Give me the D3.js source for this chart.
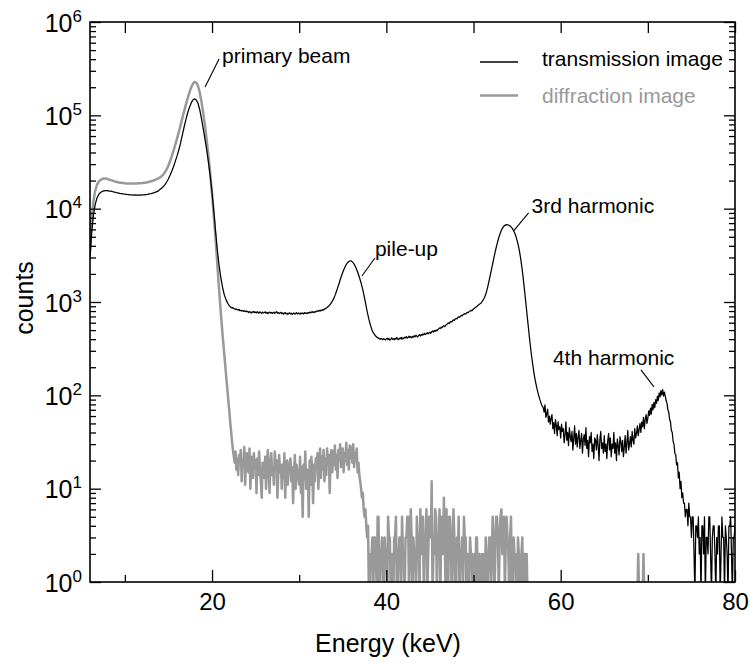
<!DOCTYPE html>
<html>
<head>
<meta charset="utf-8">
<script src="https://cdn.jsdelivr.net/npm/d3@7"></script>
<style>
  body { margin: 0; background: #fff; }
  text { font-family: "Liberation Sans", Arial, Helvetica, sans-serif; }
</style>
</head>
<body>
<svg id="chart" width="750" height="663"></svg>
<script>
// Spectrum channels: coarse binning below 22 keV, fine binning above
const lowStart = 6.0, lowStep = 0.2;    // 6.0 – 21.8 keV
const highStart = 22.0, highStep = 0.1; // 22.0 – 80.0 keV

// Transmission image detector, counts per channel
const transmissionLow = [
  2900, 5600, 8600, 11100, 13000, 14200, 14900, 15300, 15500, 15600,
  15600, 15450, 15380, 15200, 15080, 14880, 14760, 14580, 14520, 14380,
  14320, 14240, 14180, 14080, 14060, 13980, 14020, 13940, 14010, 13990,
  14060, 14090, 14170, 14240, 14370, 14490, 14660, 14840, 15120, 15400,
  16000, 16500, 17200, 18100, 19300, 20900, 23000, 25500, 28500, 32500,
  37000, 43000, 51000, 62000, 75000, 90000, 106000, 121000, 135000, 146000,
  150000, 146000, 134000, 114000, 91000, 71000, 55000, 42000, 31000, 22000,
  15000, 9500, 5800, 3700, 2500, 1850, 1450, 1200, 1060, 970
];
const transmissionHigh = [
  910, 890, 875, 860, 870, 850, 845, 830, 840, 825,
  820, 835, 805, 815, 800, 810, 795, 805, 790, 800,
  785, 795, 770, 790, 780, 760, 785, 775, 795, 770,
  780, 765, 790, 770, 760, 785, 770, 755, 780, 765,
  770, 785, 760, 775, 750, 770, 780, 760, 775, 755,
  765, 780, 755, 770, 790, 760, 770, 750, 765, 775,
  750, 765, 740, 760, 770, 745, 760, 735, 755, 765,
  745, 760, 735, 750, 765, 740, 755, 770, 745, 760,
  755, 740, 765, 750, 760, 745, 770, 755, 765, 750,
  770, 760, 780, 765, 775, 790, 770, 785, 775, 795,
  790, 805, 795, 815, 800, 820, 810, 830, 820, 840,
  850, 860, 875, 890, 905, 925, 955, 985, 1020, 1060,
  1110, 1170, 1240, 1320, 1410, 1500, 1610, 1720, 1840, 1960,
  2080, 2200, 2310, 2420, 2520, 2600, 2670, 2720, 2750, 2760,
  2740, 2690, 2620, 2540, 2450, 2340, 2220, 2100, 1970, 1850,
  1720, 1600, 1470, 1350, 1220, 1100, 990, 880, 790, 720,
  650, 600, 555, 520, 490, 470, 455, 440, 430, 420,
  415, 410, 404, 398, 408, 400, 395, 405, 398, 392,
  402, 410, 396, 404, 390, 400, 412, 398, 405, 394,
  408, 400, 415, 402, 395, 410, 404, 418, 400, 412,
  406, 420, 412, 425, 410, 418, 430, 416, 424, 412,
  428, 420, 435, 424, 440, 430, 422, 438, 446, 432,
  448, 440, 455, 446, 462, 450, 458, 470, 456, 468,
  474, 462, 480, 490, 476, 494, 484, 500, 492, 506,
  514, 528, 520, 538, 530, 548, 556, 544, 562, 574,
  582, 596, 588, 606, 618, 610, 630, 644, 636, 656,
  668, 660, 680, 694, 686, 706, 718, 710, 730, 742,
  750, 740, 762, 776, 768, 790, 800, 812, 804, 826,
  840, 858, 870, 886, 900, 918, 932, 950, 964, 980,
  1020, 1050, 1090, 1140, 1210, 1300, 1410, 1550, 1710, 1890,
  2090, 2320, 2580, 2860, 3160, 3480, 3820, 4170, 4530, 4890,
  5240, 5560, 5860, 6120, 6340, 6510, 6630, 6700, 6730, 6720,
  6680, 6610, 6510, 6380, 6220, 6030, 5800, 5540, 5250, 4930,
  4580, 4200, 3800, 3380, 2960, 2550, 2160, 1800, 1480, 1210,
  990, 800, 650, 530, 430, 355, 295, 248, 212, 183,
  160, 142, 128, 116, 106, 98, 91, 85, 80, 76,
  74, 66, 79, 58, 63, 71, 52, 60, 49, 57,
  62, 44, 51, 39, 55, 48, 37, 52, 43, 46,
  35, 49, 41, 44, 31, 38, 52, 33, 40, 29,
  45, 36, 32, 41, 26, 35, 47, 30, 39, 28,
  36, 42, 27, 33, 39, 24, 34, 38, 29, 45,
  27, 33, 22, 36, 31, 40, 25, 30, 21, 35,
  33, 26, 38, 29, 20, 34, 41, 27, 31, 24,
  37, 25, 30, 21, 33, 39, 26, 35, 22, 30,
  27, 40, 24, 31, 20, 34, 29, 23, 36, 32,
  25, 33, 22, 28, 37, 24, 31, 42, 26, 30,
  36, 28, 41, 33, 30, 44, 35, 39, 47, 37,
  43, 50, 40, 52, 46, 58, 44, 55, 62, 50,
  57, 68, 61, 73, 63, 80, 70, 84, 74, 90,
  82, 98, 88, 106, 96, 112, 101, 115, 98, 108,
  98, 88, 82, 70, 66, 55, 52, 42, 40, 32,
  30, 24, 23, 18, 19, 13, 15, 10, 12, 8,
  9, 7, 7, 5, 6, 6, 4, 7, 5, 5,
  3, 5, 5, 2, 0, 4, 4, 3, 5, 2,
  3, 0, 4, 4, 2, 5, 0, 3, 3, 2,
  5, 5, 2, 0, 3, 4, 4, 2, 0, 3,
  2, 4, 4, 0, 2, 5, 3, 3, 0, 4,
  3, 2, 0, 4, 4, 5, 2, 0, 3, 3,
  4
];

// Diffraction image detector, counts per channel
const diffractionLow = [
  3600, 7800, 12200, 15600, 18000, 19500, 20300, 20800, 21000, 21000,
  20800, 20500, 20200, 19900, 19600, 19400, 19200, 19000, 18900, 18800,
  18700, 18650, 18600, 18600, 18550, 18600, 18600, 18650, 18700, 18750,
  18800, 18900, 19000, 19200, 19400, 19650, 19900, 20200, 20600, 21000,
  21500, 22200, 23200, 24600, 26500, 29000, 32500, 37000, 42500, 49000,
  57000, 67000, 79000, 94000, 111000, 130000, 152000, 175000, 198000, 217000,
  228000, 224000, 206000, 174000, 138000, 104000, 76000, 53000, 36000, 23500,
  14500, 8500, 4800, 2600, 1400, 780, 460, 280, 170, 105
];
const diffractionHigh = [
  65, 50, 40, 32, 26, 22, 19, 25, 16, 21,
  14, 23, 19, 26, 12, 20, 17, 28, 11, 19,
  24, 16, 15, 27, 10, 18, 22, 13, 24, 17,
  20, 9, 21, 14, 25, 16, 12, 8, 19, 15,
  13, 22, 10, 18, 26, 17, 9, 19, 24, 14,
  16, 11, 25, 17, 20, 8, 14, 23, 15, 18,
  10, 18, 13, 24, 8, 17, 20, 11, 16, 19,
  21, 12, 17, 7, 14, 23, 10, 18, 15, 13,
  11, 22, 9, 17, 5, 18, 13, 25, 10, 16,
  15, 5, 20, 11, 22, 15, 7, 18, 12, 21,
  17, 24, 10, 19, 27, 13, 22, 16, 26, 12,
  21, 14, 27, 18, 23, 9, 21, 26, 15, 25,
  18, 29, 16, 23, 13, 26, 20, 30, 17, 22,
  27, 15, 24, 20, 31, 18, 26, 16, 29, 21,
  28, 19, 30, 17, 24, 20, 27, 15, 19, 14,
  12, 10, 8, 9, 6, 5, 6, 4, 3, 4,
  0, 0, 2, 2, 3, 0, 3, 3, 2, 0,
  5, 5, 0, 2, 2, 3, 0, 0, 3, 2,
  2, 0, 5, 3, 3, 0, 2, 2, 0, 3,
  3, 5, 0, 0, 2, 3, 3, 0, 5, 2,
  2, 0, 3, 3, 5, 5, 0, 2, 6, 3,
  0, 3, 2, 2, 0, 5, 3, 3, 0, 6,
  2, 2, 5, 0, 3, 3, 6, 0, 2, 5,
  5, 3, 12, 0, 2, 2, 6, 5, 0, 3,
  3, 6, 0, 5, 2, 2, 8, 3, 0, 6,
  2, 0, 5, 5, 3, 0, 2, 6, 3, 0,
  0, 3, 2, 5, 0, 2, 2, 3, 0, 5,
  3, 3, 0, 2, 0, 0, 3, 2, 2, 0,
  0, 2, 0, 3, 3, 0, 0, 2, 0, 0,
  2, 2, 0, 0, 3, 0, 0, 2, 3, 3,
  0, 2, 5, 3, 0, 2, 5, 5, 3, 0,
  3, 5, 6, 2, 2, 5, 0, 3, 5, 3,
  2, 0, 3, 5, 0, 0, 3, 2, 2, 0,
  0, 3, 2, 0, 0, 2, 3, 0, 2, 2,
  0, 2, 0, 0, 0, 0, 0, 0, 0, 0,
  0, 0, 0, 0, 0, 0, 0, 0, 0, 0, 0, 0, 0, 0, 0, 0, 0, 0, 0, 0,
  0, 0, 0, 0, 0, 0, 0, 0, 0, 0, 0, 0, 0, 0, 0, 0, 0, 0, 0, 0,
  0, 0, 0, 0, 0, 0, 0, 0, 0, 0, 0, 0, 0, 0, 0, 0, 0, 0, 0, 0,
  0, 0, 0, 0, 0, 0, 0, 0, 0, 0, 0, 0, 0, 0, 0, 0, 0, 0, 0, 0,
  0, 0, 0, 0, 0, 0, 0, 0, 0, 0, 0, 0, 0, 0, 0, 0, 0, 0, 0, 0,
  0, 0, 0, 0, 0, 0, 0, 0, 0, 0,
  0, 0, 0, 0, 0, 0, 0, 0, 0, 2,
  0, 0, 0, 0, 0, 2, 0, 0, 0, 0,
  0, 0, 0, 0, 0, 0, 0, 0, 0, 0, 0, 0, 0, 0, 0, 0, 0, 0, 0, 0,
  0, 0, 0, 0, 0, 0, 0, 0, 0, 0, 0, 0, 0, 0, 0, 0, 0, 0, 0, 0,
  0, 0, 0, 0, 0, 0, 0, 0, 0, 0, 0, 0, 0, 0, 0, 0, 0, 0, 0, 0,
  0, 0, 0, 0, 0, 0, 0, 0, 0, 0, 0, 0, 0, 0, 0, 0, 0, 0, 0, 0,
  0, 0, 0, 0, 0, 0, 0, 0, 0, 0, 0, 0, 0, 0, 0, 0, 0, 0, 0, 0,
  0
];

const seriesNames = ["transmission image", "diffraction image"];
const xLabelTicks = [20, 40, 60, 80];
const xMinorTicks = [10, 30, 50, 70];
const yDecades = [0, 1, 2, 3, 4, 5, 6];
const xTitle = "Energy (keV)";
const yTitle = "counts";

// Peak annotations: label and the point on the spectrum its leader touches
const peakLabels = ["primary beam", "pile-up", "3rd harmonic", "4th harmonic"];
const peakEnergy = [19.2, 37.2, 54.6, 70.7];
const peakCount = [201000, 1900, 5770, 123];

// ---- drawing ----
const W = 750, H = 663;
const plot = { left: 90, right: 735, top: 22, bottom: 582 };
const FONT = '"Liberation Sans", Arial, Helvetica, sans-serif';
const GREY = "#999999";

const svg = d3.select("#chart");
svg.append("rect").attr("width", W).attr("height", H).attr("fill", "#fff");

const x = d3.scaleLinear().domain([6, 80]).range([plot.left, plot.right]);
const y = d3.scaleLog().domain([1, 1e6]).range([plot.bottom, plot.top]);

// channel centre energies for both binnings
const energies = transmissionLow.map((_, i) => lowStart + i * lowStep)
  .concat(transmissionHigh.map((_, i) => highStart + i * highStep));
const transmission = transmissionLow.concat(transmissionHigh);
const diffraction = diffractionLow.concat(diffractionHigh);

svg.append("clipPath").attr("id", "plotClip")
  .append("rect")
  .attr("x", plot.left).attr("y", plot.top)
  .attr("width", plot.right - plot.left).attr("height", plot.bottom - plot.top);

// empty channels fall below the lowest decade and are clipped at the frame
const line = d3.line()
  .x((d, i) => x(energies[i]))
  .y(d => y(Math.max(d, 0.7)));

const curves = svg.append("g").attr("clip-path", "url(#plotClip)");
curves.append("path")
  .attr("d", line(diffraction))
  .attr("fill", "none").attr("stroke", GREY)
  .attr("stroke-width", 2.5).attr("stroke-linejoin", "round");
curves.append("path")
  .attr("d", line(transmission))
  .attr("fill", "none").attr("stroke", "#000")
  .attr("stroke-width", 1.25).attr("stroke-linejoin", "round");

// ---- axes (ticks point inward on all four sides) ----
const yMinor = [];
yDecades.slice(0, -1).forEach(k => { for (let m = 2; m <= 9; m++) yMinor.push(m * Math.pow(10, k)); });
const yMajor = yDecades.map(k => Math.pow(10, k));

function styleAxis(g) {
  g.select(".domain").remove();
  g.selectAll(".tick line").attr("stroke", "#000").attr("stroke-width", 1.3);
}

// bottom
svg.append("g").attr("transform", `translate(0,${plot.bottom})`)
  .call(d3.axisBottom(x).tickValues(xLabelTicks).tickSize(-12).tickFormat(d3.format("d")))
  .call(styleAxis)
  .call(g => g.selectAll("text")
    .attr("y", 28).attr("dy", null)
    .attr("font-size", 24).attr("font-family", FONT).attr("fill", "#000"));
svg.append("g").attr("transform", `translate(0,${plot.bottom})`)
  .call(d3.axisBottom(x).tickValues(xMinorTicks).tickSize(-7).tickFormat(""))
  .call(styleAxis);

// top
svg.append("g").attr("transform", `translate(0,${plot.top})`)
  .call(d3.axisTop(x).tickValues(xLabelTicks.concat(xMinorTicks)).tickSize(-11).tickFormat(""))
  .call(styleAxis);

// left
svg.append("g").attr("transform", `translate(${plot.left},0)`)
  .call(d3.axisLeft(y).tickValues(yMajor).tickSize(-11).tickPadding(8).tickFormat(""))
  .call(styleAxis)
  .call(g => g.selectAll(".tick text").each(function (d) {
    const t = d3.select(this)
      .attr("dy", null).attr("y", 9)
      .attr("font-family", FONT).attr("font-size", 25).attr("fill", "#000");
    t.append("tspan").text("10");
    t.append("tspan").attr("font-size", 17).attr("dy", -10).text(Math.round(Math.log10(d)));
  }));
svg.append("g").attr("transform", `translate(${plot.left},0)`)
  .call(d3.axisLeft(y).tickValues(yMinor).tickSize(-6).tickFormat(""))
  .call(styleAxis);

// right
svg.append("g").attr("transform", `translate(${plot.right},0)`)
  .call(d3.axisRight(y).tickValues(yMajor).tickSize(-11).tickFormat(""))
  .call(styleAxis);
svg.append("g").attr("transform", `translate(${plot.right},0)`)
  .call(d3.axisRight(y).tickValues(yMinor).tickSize(-6).tickFormat(""))
  .call(styleAxis);

// frame
svg.append("rect")
  .attr("x", plot.left).attr("y", plot.top)
  .attr("width", plot.right - plot.left).attr("height", plot.bottom - plot.top)
  .attr("fill", "none").attr("stroke", "#000").attr("stroke-width", 1.6);

// axis titles
svg.append("text")
  .attr("x", 388).attr("y", 652)
  .attr("text-anchor", "middle").attr("font-size", 25).attr("font-family", FONT)
  .text(xTitle);
svg.append("text")
  .attr("transform", "translate(33,298) rotate(-90)")
  .attr("text-anchor", "middle").attr("font-size", 25).attr("font-family", FONT)
  .text(yTitle);

// ---- legend ----
const legendColors = ["#000", GREY];
const legendWidths = [1.5, 2.6];
const legend = svg.append("g");
seriesNames.forEach((name, i) => {
  const ly = 62 + i * 33.5;
  legend.append("line")
    .attr("x1", 480).attr("x2", 518).attr("y1", ly).attr("y2", ly)
    .attr("stroke", legendColors[i]).attr("stroke-width", legendWidths[i]);
  legend.append("text")
    .attr("x", 542).attr("y", ly + 4 + i * 3)
    .attr("font-size", 21).attr("font-family", FONT)
    .attr("fill", legendColors[i])
    .text(name);
});

// ---- peak annotations ----
// [leader dx, leader dy, text dx, text dy] relative to the anchor point
const labelLayout = [[14, -28, 17, -24], [13, -18, 13, -20], [15, -18, 18, -18], [-13, -17, -101, -22]];
const notes = svg.append("g");
peakLabels.forEach((label, i) => {
  const ax = x(peakEnergy[i]), ay = y(peakCount[i]);
  const [ldx, ldy, tdx, tdy] = labelLayout[i];
  notes.append("line")
    .attr("x1", ax).attr("y1", ay).attr("x2", ax + ldx).attr("y2", ay + ldy)
    .attr("stroke", "#000").attr("stroke-width", 1.1);
  notes.append("text")
    .attr("x", ax + tdx).attr("y", ay + tdy)
    .attr("font-size", 21).attr("font-family", FONT)
    .text(label);
});
</script>
</body>
</html>
